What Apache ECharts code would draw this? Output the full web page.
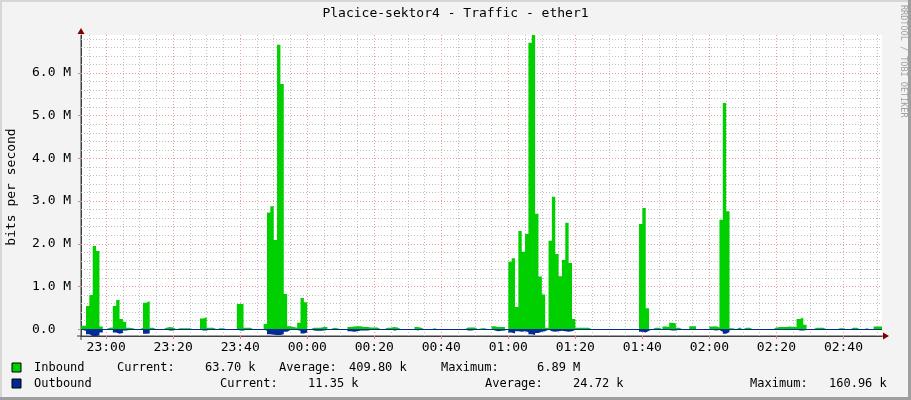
<!DOCTYPE html>
<html><head><meta charset="utf-8">
<script src="https://cdn.jsdelivr.net/npm/echarts@6/dist/echarts.min.js"></script>
<style>html,body{margin:0;padding:0;background:#f3f3f3}#c{width:911px;height:400px}</style>
</head><body><div id="c"></div>
<script>
// minutes since 22:00 ; first sample covers 22:52-22:53, one sample per minute
const startMinute = 52;
// Inbound, Mbit/s (M52 .. M292)
const inbound = [
  0.08,0.08,0.54,0.80,1.95,1.83,0.06,0,0.03,0.04,
  0.54,0.68,0.24,0.17,0.03,0.02,0,0,0.03,0.62,
  0.66,0.03,0,0,0,0.03,0.05,0.04,0,0.02,
  0.02,0.02,0.02,0,0,0,0.25,0.28,0.03,0.03,
  0,0.02,0.02,0,0,0,0,0.59,0.59,0.03,
  0.03,0,0,0,0,0.12,2.73,2.88,2.09,6.66,
  5.74,0.82,0.07,0.05,0.03,0.15,0.73,0.63,0,0.03,
  0.03,0.03,0.05,0.05,0,0.03,0.02,0,0,0,
  0.05,0.06,0.07,0.07,0.05,0.05,0.04,0.04,0.04,0,
  0,0.03,0.03,0.05,0.04,0,0,0,0,0,
  0.05,0.03,0,0,0,0.02,0,0,0,0,
  0,0,0,0,0,0.04,0.04,0.04,0,0.02,
  0.02,0,0,0.07,0.05,0.05,0.05,0,1.58,1.66,
  0.52,2.30,1.81,2.23,6.71,6.89,2.70,1.23,0.81,0.03,
  2.07,3.10,1.76,1.24,1.62,2.49,1.55,0.24,0.03,0.03,
  0.03,0.03,0,0,0,0,0,0,0,0,
  0,0,0,0,0,0,0,2.46,2.84,0.49,
  0,0.03,0.03,0,0.06,0.05,0.15,0.13,0.03,0,
  0,0,0.07,0.07,0,0,0,0,0.06,0.07,
  0.04,2.56,5.30,2.76,0.02,0,0.04,0,0.03,0.03,
  0,0,0,0,0,0,0,0.04,0.05,0.05,
  0.05,0.06,0.05,0.05,0.24,0.27,0.10,0,0,0.03,
  0.03,0.03,0,0,0,0,0.02,0.02,0,0,
  0.03,0.03,0,0,0.02,0,0,0.06,0.06,0.06,
  0.064
];
// Outbound, Mbit/s (drawn below zero)
const outbound = [
  0.02,0.04,0.12,0.16,0.16,0.15,0.08,0.01,0.02,0.02,
  0.08,0.11,0.09,0.03,0.02,0.01,0,0,0.02,0.11,
  0.10,0.02,0,0,0,0.01,0.03,0.03,0,0.02,
  0.02,0.02,0.02,0,0,0,0.03,0.03,0.01,0.01,
  0,0.01,0.01,0,0,0,0,0.03,0.03,0.01,
  0.01,0,0,0,0,0.04,0.12,0.13,0.14,0.14,
  0.12,0.06,0.02,0.02,0.02,0.04,0.10,0.08,0,0.03,
  0.04,0.04,0.03,0.02,0,0.01,0.01,0,0,0,
  0.05,0.06,0.05,0.03,0.03,0.03,0.02,0.02,0.02,0,
  0,0.01,0.01,0.03,0.02,0,0,0,0,0,
  0.03,0.01,0,0,0,0.01,0,0,0,0,
  0,0,0,0,0,0.03,0.03,0.02,0,0.01,
  0.01,0,0,0.03,0.05,0.04,0.03,0,0.08,0.10,
  0.05,0.06,0.05,0.07,0.12,0.14,0.09,0.06,0.05,0.01,
  0.05,0.06,0.05,0.04,0.05,0.06,0.05,0.02,0.01,0.01,
  0.01,0.01,0,0,0,0,0,0,0,0,
  0,0,0,0,0,0,0,0.06,0.08,0.04,
  0,0.01,0.01,0,0.01,0.02,0.03,0.03,0.01,0,
  0,0,0.02,0.02,0,0,0,0,0.02,0.03,
  0.02,0.06,0.11,0.07,0.01,0,0.01,0,0.01,0.01,
  0,0,0,0,0,0,0,0.01,0.01,0.01,
  0.01,0.01,0.01,0.01,0.03,0.03,0.02,0,0,0.01,
  0.01,0.01,0,0,0,0,0.01,0.01,0,0,
  0.01,0.01,0,0,0.01,0,0,0.01,0.01,0.01,
  0.011
];
const xRange = [52.5, 291.5];          // 22:52:30 .. 02:51:30
const xMajorTicks = [60,80,100,120,140,160,180,200,220,240,260,280];
const yRange = [-0.16096, 6.89];
const yMajorTicks = [0,1,2,3,4,5,6];
const yTickLabels = ['0.0','1.0 M','2.0 M','3.0 M','4.0 M','5.0 M','6.0 M'];
const titleText = 'Placice-sektor4 - Traffic - ether1';
const yAxisName = 'bits per second';
const legendIn  = ['Inbound','Current:','63.70 k','Average:','409.80 k','Maximum:','6.89 M'];
const legendOut = ['Outbound','Current:','11.35 k','Average:','24.72 k','Maximum:','160.96 k'];

const FONT = 'DejaVu Sans Mono';
const GREEN = '#00cf00', BLUE = '#002a97';
const minorGrid = {color:'#c0c0c0', width:1, type:[1,2]};
const majorGrid = {color:'#ec9a9a', width:1, type:[1,2]};

function fmtTime(m){const h=(22+Math.floor(m/60))%24, mm=m%60;return String(h).padStart(2,'0')+':'+String(mm).padStart(2,'0');}

const gridLines = [];
for (let m = 55; m <= 290; m += 5) gridLines.push({xAxis:m, lineStyle: (m%20===0)?majorGrid:minorGrid});
for (let k = 1; k <= 34; k++) gridLines.push({yAxis:k/5, lineStyle:(k%5===0)?majorGrid:minorGrid});

const chart = echarts.init(document.getElementById('c'), null, {renderer:'canvas'});
const legX1 = [34,117,205,279,349,441,537];
const legX2 = [34,220,308,485,573,750,829];
const graphics = [
  {type:'rect', shape:{x:0,y:0,width:911,height:2}, style:{fill:'#d6d6d6'}, silent:true},
  {type:'rect', shape:{x:0,y:0,width:2,height:400}, style:{fill:'#d6d6d6'}, silent:true},
  {type:'rect', shape:{x:908,y:0,width:3,height:400}, style:{fill:'#9e9e9e'}, silent:true},
  {type:'rect', shape:{x:0,y:397,width:911,height:3}, style:{fill:'#9e9e9e'}, silent:true},
  {type:'text', x:455.5, y:14, style:{text:titleText, font:'13px '+FONT, fill:'#000', textAlign:'center', textVerticalAlign:'middle'}},
  {type:'text', x:12, y:187, rotation:Math.PI/2, style:{text:yAxisName, font:'13px '+FONT, fill:'#000', textAlign:'center', textVerticalAlign:'middle'}},
  {type:'text', x:903, y:5, rotation:-Math.PI/2, style:{text:'RRDTOOL / TOBI OETIKER', font:'8.5px '+FONT, fill:'#a0a0a0', textAlign:'left', textVerticalAlign:'middle'}},
  {type:'rect', shape:{x:12,y:363,width:9,height:9}, style:{fill:GREEN, stroke:'#000', lineWidth:1}},
  {type:'rect', shape:{x:12,y:379,width:9,height:9}, style:{fill:BLUE, stroke:'#000', lineWidth:1}}
];
legendIn.forEach((t,i)=>graphics.push({type:'text', x:legX1[i], y:368, style:{text:t, font:'12px '+FONT, fill:'#000', textVerticalAlign:'middle'}}));
legendOut.forEach((t,i)=>graphics.push({type:'text', x:legX2[i], y:384, style:{text:t, font:'12px '+FONT, fill:'#000', textVerticalAlign:'middle'}}));

chart.setOption({
  animation:false,
  backgroundColor:'#f3f3f3',
  grid:{left:81, right:29, top:35, bottom:64, show:true, backgroundColor:'#ffffff', borderWidth:0},
  xAxis:{type:'value', min:xRange[0], max:xRange[1],
    axisLine:{show:true, onZero:false, lineStyle:{color:'#404040', width:1}},
    axisTick:{show:true, customValues:xMajorTicks, length:3, inside:false, lineStyle:{color:'#e08080'}},
    axisLabel:{customValues:xMajorTicks, formatter:(v)=>fmtTime(v), fontFamily:FONT, fontSize:13, color:'#000', margin:5},
    splitLine:{show:false}},
  yAxis:{type:'value', min:yRange[0], max:yRange[1],
    axisLine:{show:true, onZero:false, lineStyle:{color:'#404040', width:1}},
    axisTick:{show:true, customValues:yMajorTicks, length:3, lineStyle:{color:'#e08080'}},
    axisLabel:{customValues:yMajorTicks, formatter:(v)=>yTickLabels[yMajorTicks.indexOf(Math.round(v))], fontFamily:FONT, fontSize:13, color:'#000', align:'left', margin:49},
    splitLine:{show:false}},
  graphic:graphics,
  series:[
    {type:'line', name:'grid', data:[], z:1, silent:true,
     markLine:{silent:true, z:1, symbol:['none','none'], label:{show:false}, animation:false, data:gridLines}},
    {type:'line', name:'Inbound', z:3, step:'end', symbol:'none', showSymbol:false, sampling:null,
     data: inbound.map((v,i)=>[startMinute+i, v]),
     lineStyle:{width:0, opacity:0}, areaStyle:{color:GREEN, opacity:1, origin:0}},
    {type:'line', name:'Outbound', z:4, step:'end', symbol:'none', showSymbol:false,
     data: outbound.map((v,i)=>[startMinute+i, -v]),
     lineStyle:{width:0, opacity:0}, areaStyle:{color:BLUE, opacity:1, origin:0},
     markLine:{silent:true, z:6, symbol:['none','none'], label:{show:false}, animation:false,
       lineStyle:{color:BLUE, width:1, type:'solid'}, data:[{yAxis:0}]}}
  ]
});

// axis arrows (decoration) placed at the axis ends
const pTop = chart.convertToPixel({gridIndex:0}, [xRange[0], yRange[1]]);
const pRight = chart.convertToPixel({gridIndex:0}, [xRange[1], yRange[0]]);
const extra = graphics.slice();
extra.push({type:'polygon', shape:{points:[[pTop[0]-3.5,pTop[1]-1],[pTop[0]+3.5,pTop[1]-1],[pTop[0],pTop[1]-7]]}, style:{fill:'#800000'}});
extra.push({type:'polygon', shape:{points:[[pRight[0]+1,pRight[1]-3.5],[pRight[0]+1,pRight[1]+3.5],[pRight[0]+7,pRight[1]]]}, style:{fill:'#800000'}});
extra.push({type:'line', shape:{x1:pTop[0]-4,y1:pRight[1],x2:pRight[0]+1,y2:pRight[1]}, style:{stroke:'#404040', lineWidth:1}});
extra.push({type:'line', shape:{x1:pTop[0],y1:pRight[1]+4,x2:pTop[0],y2:pTop[1]}, style:{stroke:'#404040', lineWidth:1}});
chart.setOption({graphic:extra}, {replaceMerge:['graphic']});
</script></body></html>
